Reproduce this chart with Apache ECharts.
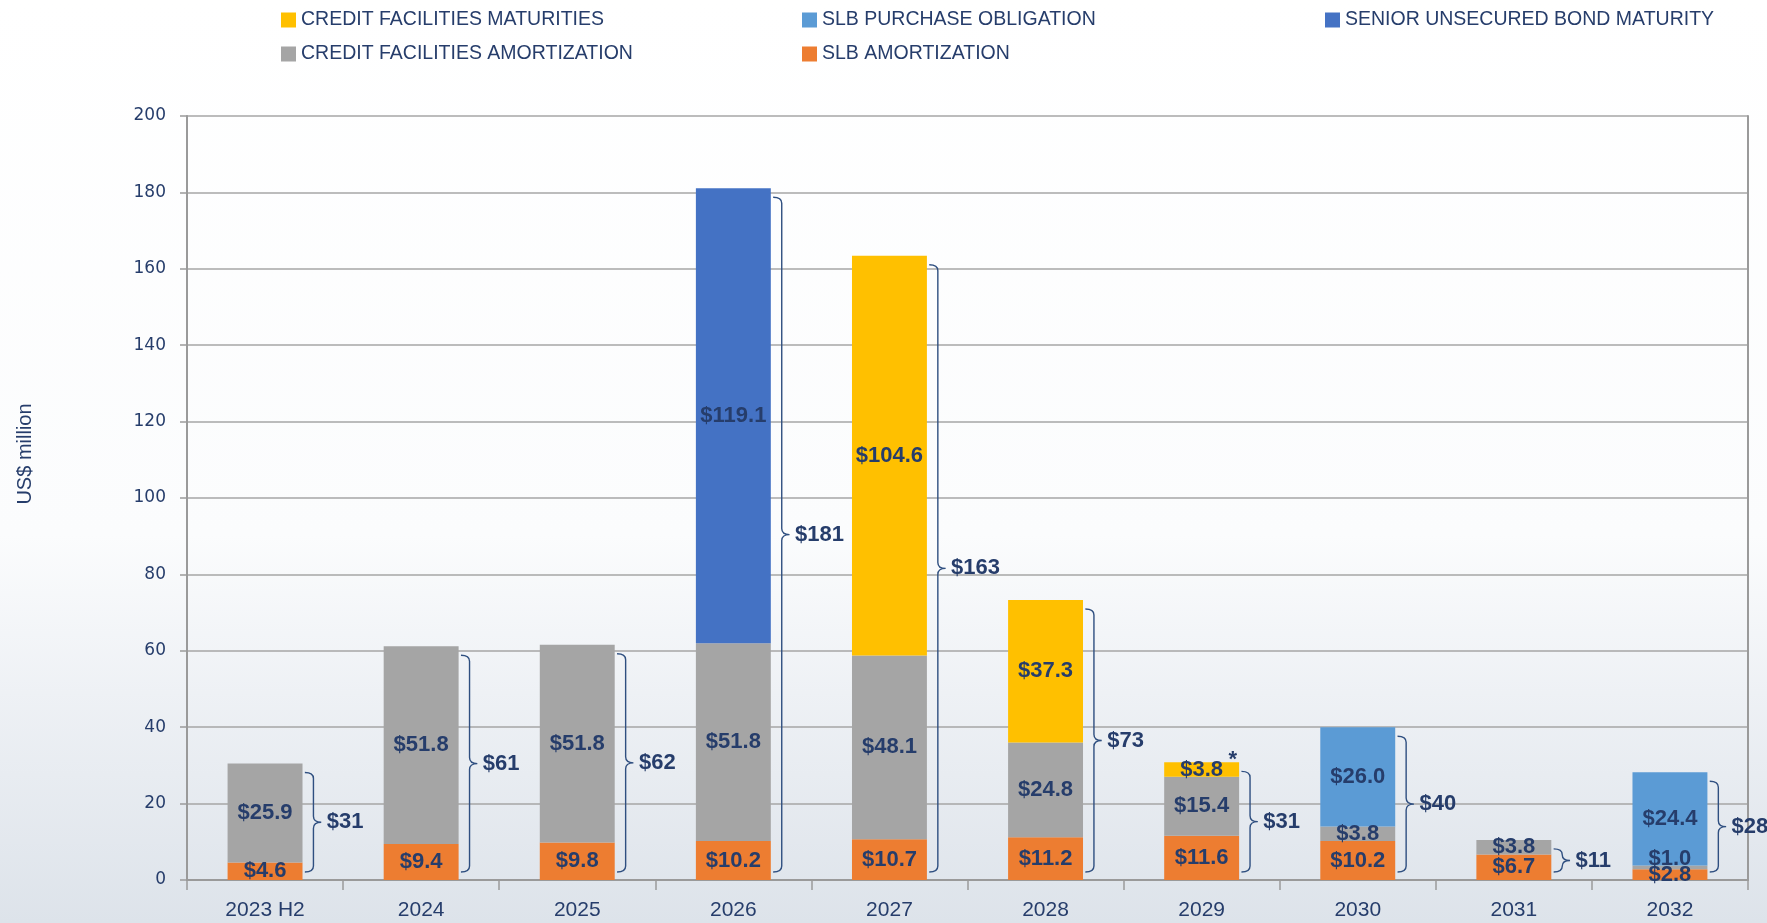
<!DOCTYPE html>
<html lang="en">
<head>
<meta charset="UTF-8">
<title>Debt maturity profile</title>
<script src="https://cdn.jsdelivr.net/npm/echarts@6/dist/echarts.min.js"></script>
<style>
    html, body { margin: 0; padding: 0; }
    #main { width: 1767px; height: 923px; }
</style>
</head>
<body>
<div id="main"></div>
<script>
    const years = ['2023 H2', '2024', '2025', '2026', '2027', '2028', '2029', '2030', '2031', '2032'];
    const slbAmort = [4.6, 9.4, 9.8, 10.2, 10.7, 11.2, 11.6, 10.2, 6.7, 2.8];
    const cfAmort = [25.9, 51.8, 51.8, 51.8, 48.1, 24.8, 15.4, 3.8, 3.8, 1.0];
    const cfMaturities = [null, null, null, null, 104.6, 37.3, 3.8, null, null, null];
    const slbPurchase = [null, null, null, null, null, null, null, 26.0, null, 24.4];
    const bondMaturity = [null, null, null, 119.1, null, null, null, null, null, null];
    const totals = [31, 61, 62, 181, 163, 73, 31, 40, 11, 28];
    const notes = ['', '', '', '', '', '', '*', '', '', ''];
    const yTicks = { min: 0, max: 200, step: 20 };

    const navy = '#263d6b';
    const font = '"Liberation Sans", Arial, sans-serif';

    let myChart = echarts.init(document.getElementById('main'));

    // stacked height of each column, used for the brace next to it
    const sums = years.map((y, i) =>
        [slbAmort, cfAmort, cfMaturities, slbPurchase, bondMaturity]
            .reduce((s, arr) => s + (arr[i] || 0), 0));

    function barSeries(name, values, color) {
        return {
            name: name,
            type: 'bar',
            stack: 'total',
            barWidth: '48%',
            itemStyle: { color: color },
            label: {
                show: true,
                position: 'inside',
                color: navy,
                fontSize: 22,
                fontWeight: 'bold',
                fontFamily: font,
                formatter: p => p.value == null ? '' : '$' + p.value.toFixed(1)
            },
            data: values
        };
    }

    const gray = barSeries('CREDIT FACILITIES AMORTIZATION', cfAmort, '#a5a5a5');
    // the tiny 2032 segment label sits a bit higher so it does not run into the one below
    gray.data = cfAmort.map((v, i) => i === 9 ? { value: v, label: { offset: [0, -8] } } : v);

    const legendBase = {
        icon: 'rect',
        itemWidth: 15,
        itemHeight: 15,
        itemGap: 14,
        selectedMode: false,
        top: 5,
        orient: 'vertical',
        textStyle: { color: navy, fontSize: 19.5, fontFamily: font, lineHeight: 20 }
    };

    let option = {
        backgroundColor: new echarts.graphic.LinearGradient(0, 0, 0, 1, [
            { offset: 0, color: '#ffffff' },
            { offset: 0.58, color: '#fbfcfd' },
            { offset: 0.75, color: '#eef1f5' },
            { offset: 1, color: '#dde3ea' }
        ]),
        legend: [
            Object.assign({}, legendBase, { left: 276, data: ['CREDIT FACILITIES MATURITIES', 'CREDIT FACILITIES AMORTIZATION'] }),
            Object.assign({}, legendBase, { left: 797, data: ['SLB PURCHASE OBLIGATION', 'SLB AMORTIZATION'] }),
            Object.assign({}, legendBase, { left: 1320, data: ['SENIOR UNSECURED BOND MATURITY'] })
        ],
        grid: { left: 187, right: 19, top: 116, bottom: 43, outerBoundsMode: 'none' },
        xAxis: {
            type: 'category',
            data: years,
            axisLine: { lineStyle: { color: '#9a9a9a', width: 2 } },
            axisTick: { show: true, length: 10, lineStyle: { color: '#9a9a9a', width: 1.5 } },
            axisLabel: { color: navy, fontSize: 21, fontFamily: font, margin: 20 }
        },
        yAxis: [{
            type: 'value',
            min: yTicks.min,
            max: yTicks.max,
            interval: yTicks.step,
            axisLine: { show: true, lineStyle: { color: '#9a9a9a', width: 2 } },
            axisTick: { show: true, length: 7, lineStyle: { color: '#9a9a9a', width: 1.5 } },
            axisLabel: { color: navy, fontSize: 17, fontFamily: '"DejaVu Sans", Verdana, sans-serif', margin: 21 },
            splitLine: { lineStyle: { color: '#a6a6a6', width: 1.5 } }
        }, {
            type: 'value',
            position: 'right',
            min: yTicks.min,
            max: yTicks.max,
            interval: yTicks.step,
            axisLine: { show: true, lineStyle: { color: '#9a9a9a', width: 2 } },
            axisTick: { show: false },
            axisLabel: { show: false },
            splitLine: { show: false }
        }],
        graphic: [{
            type: 'text',
            x: 25,
            y: 454,
            rotation: Math.PI / 2,
            style: {
                text: 'US$ million',
                fill: navy,
                fontSize: 20,
                fontFamily: font,
                align: 'center',
                verticalAlign: 'middle'
            }
        }],
        series: [
            barSeries('SLB AMORTIZATION', slbAmort, '#ed7d31'),
            gray,
            barSeries('CREDIT FACILITIES MATURITIES', cfMaturities, '#ffc000'),
            barSeries('SLB PURCHASE OBLIGATION', slbPurchase, '#5b9bd5'),
            barSeries('SENIOR UNSECURED BOND MATURITY', bondMaturity, '#4472c4'),
            {
                name: 'braces',
                type: 'custom',
                z: 5,
                silent: true,
                data: sums.map((s, i) => [i, s]),
                encode: { x: 0, y: 1 },
                renderItem: function (params, api) {
                    const i = api.value(0);
                    const top = api.coord([i, api.value(1)]);
                    const base = api.coord([i, 0]);
                    const band = api.size([1, 0])[0];
                    const cx = top[0];
                    const xh = cx + band * 0.255, xv = cx + band * 0.31, xt = cx + band * 0.36;
                    const yt = top[1] + 9, yb = base[1] - 8, ym = (yt + yb) / 2;
                    const r = Math.min(6, (yb - yt) / 4);
                    const d = 'M' + xh + ',' + yt + ' Q' + xv + ',' + yt + ' ' + xv + ',' + (yt + r) +
                        ' L' + xv + ',' + (ym - r) + ' Q' + xv + ',' + ym + ' ' + xt + ',' + ym +
                        ' Q' + xv + ',' + ym + ' ' + xv + ',' + (ym + r) +
                        ' L' + xv + ',' + (yb - r) + ' Q' + xv + ',' + yb + ' ' + xh + ',' + yb;
                    const children = [{
                        type: 'path',
                        shape: { pathData: d },
                        style: { stroke: '#2f4f80', lineWidth: 1.4, fill: null }
                    }, {
                        type: 'text',
                        style: {
                            text: '$' + totals[i],
                            x: cx + band * 0.395,
                            y: ym,
                            fill: navy,
                            fontSize: 22,
                            fontWeight: 'bold',
                            fontFamily: font,
                            align: 'left',
                            verticalAlign: 'middle'
                        }
                    }];
                    if (notes[i]) {
                        children.push({
                            type: 'text',
                            style: {
                                text: notes[i],
                                x: cx + band * 0.2,
                                y: top[1] - 2,
                                fill: navy,
                                fontSize: 22,
                                fontWeight: 'bold',
                                fontFamily: font,
                                align: 'center',
                                verticalAlign: 'middle'
                            }
                        });
                    }
                    return { type: 'group', children: children };
                }
            }
        ]
    };
    myChart.setOption(option);
</script>
</body>
</html>
